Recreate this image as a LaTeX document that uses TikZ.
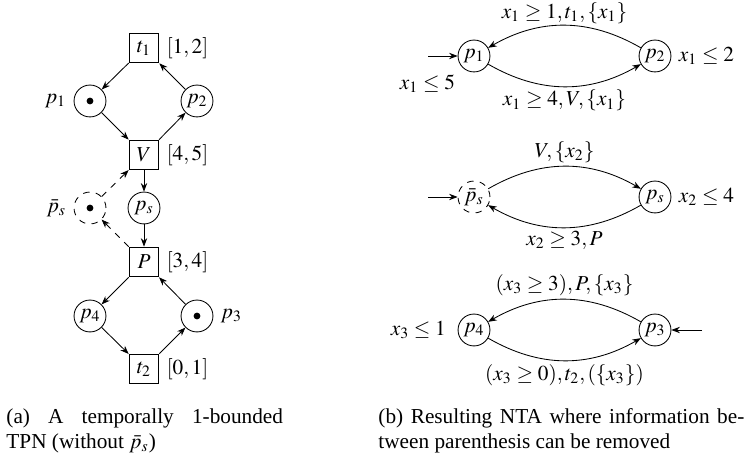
\documentclass[tikz,border=0pt]{standalone}
\usepackage{mathptmx}
\usepackage{fontspec}
\setmainfont{Liberation Serif}
\usetikzlibrary{arrows.meta}
\tikzset{
  place/.style={circle, draw, minimum size=15pt, inner sep=0pt},
  trans/.style={rectangle, draw, minimum size=14pt, inner sep=0pt},
  arc/.style={-{Stealth[length=4pt,width=3pt]}},
  ghost/.style={dashed},
  subcap/.style={anchor=north west, inner sep=0pt, align=justify},
}
\newcommand{\putdot}[1]{\fill (#1) circle (1.6pt);}

\begin{document}
\begin{tikzpicture}[x=0.47pt,y=0.47pt]
  \useasboundingbox (0,0) rectangle (747,-459);
  % (a) the TPN
  \node[trans, label=right:{$[1,2]$}] (t1) at (144,-48) {$t_1$};
  \node[place, label=left:{$p_1$}] (p1) at (90,-101) {};
  \node[place] (p2) at (197,-101) {$p_2$};
  \node[trans, label=right:{$[4,5]$}] (V) at (144,-155) {$V$};
  \node[place, ghost, label=left:{$\bar{p}_s$}] (pbs) at (90,-208) {};
  \node[place] (ps) at (144,-208) {$p_s$};
  \node[trans, label=right:{$[3,4]$}] (P) at (144,-262) {$P$};
  \node[place] (p4) at (90,-316) {$p_4$};
  \node[place, label=right:{$p_3$}] (p3) at (197,-316) {};
  \node[trans, label=right:{$[0,1]$}] (t2) at (144,-369) {$t_2$};
  \putdot{p1} \putdot{pbs} \putdot{p3}
  \draw[arc] (t1) -- (p1);
  \draw[arc] (p1) -- (V);
  \draw[arc] (V) -- (p2);
  \draw[arc] (p2) -- (t1);
  \draw[arc] (V) -- (ps);
  \draw[arc] (ps) -- (P);
  \draw[arc, ghost] (pbs) -- (V);
  \draw[arc, ghost] (P) -- (pbs);
  \draw[arc] (P) -- (p4);
  \draw[arc] (p4) -- (t2);
  \draw[arc] (t2) -- (p3);
  \draw[arc] (p3) -- (P);
  \node[subcap, text width=130pt] (capa) at (6,-408)
    {(a) A temporally 1-bounded\linebreak TPN (without $\bar{p}_s$)};

  % (b) the NTA
  \node[place, label=below left:{$x_1 \leq 5$}] (q1) at (474,-56) {$p_1$};
  \node[place, label=right:{$x_1 \leq 2$}] (q2) at (655,-56) {$p_2$};
  \coordinate (in1) at (428,-56);
  \draw[arc] (in1) -- (q1);
  \draw[arc] (q2) to[bend right=30] node[above, inner sep=0.5pt] {$x_1 \geq 1, t_1, \{x_1\}$} (q1);
  \draw[arc] (q1) to[bend right=30] node[below, inner sep=1.5pt] {$x_1 \geq 4, V, \{x_1\}$} (q2);

  \node[place, ghost] (qbs) at (474,-197) {$\bar{p}_s$};
  \node[place, label=right:{$x_2 \leq 4$}] (qs) at (655,-197) {$p_s$};
  \coordinate (in2) at (428,-197);
  \draw[arc] (in2) -- (qbs);
  \draw[arc] (qbs) to[bend left=30] node[above, inner sep=1.5pt] {$V, \{x_2\}$} (qs);
  \draw[arc] (qs) to[bend left=30] node[below, inner sep=1.5pt] {$x_2 \geq 3, P$} (qbs);

  \node[place, label={[label distance=2pt]left:{$x_3 \leq 1$}}] (q4) at (474,-330) {$p_4$};
  \node[place] (q3) at (655,-330) {$p_3$};
  \coordinate (in3) at (702,-330);
  \draw[arc] (in3) -- (q3);
  \draw[arc] (q3) to[bend right=30] node[above, inner sep=1.5pt] {$(x_3 \geq 3), P, \{x_3\}$} (q4);
  \draw[arc] (q4) to[bend right=30] node[below, inner sep=1.5pt] {$(x_3 \geq 0), t_2, (\{x_3\})$} (q3);
  \node[subcap, text width=172pt] (capb) at (378,-408)
    {(b) Resulting NTA where information be-\linebreak tween parenthesis can be removed};
\end{tikzpicture}
\end{document}
